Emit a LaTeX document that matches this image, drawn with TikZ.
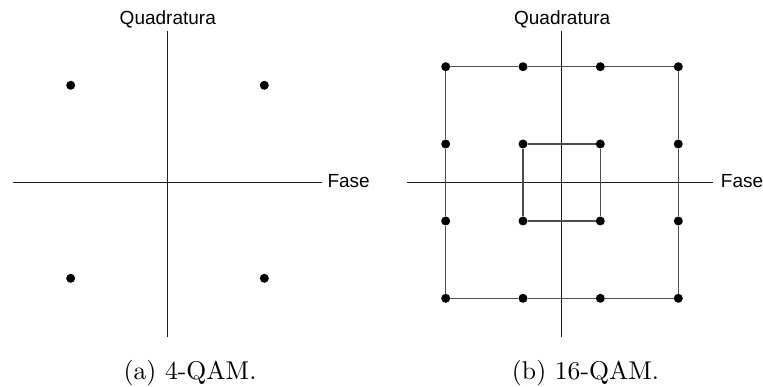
\documentclass[tikz,border=0pt]{standalone}
\usepackage{fontspec}
\newfontfamily\arialf{Liberation Sans}
\newfontfamily\capfont{lmroman10-regular}[Extension=.otf]
\begin{document}
\begin{tikzpicture}[x=1pt,y=-1pt,
  dot/.style={circle,fill=black,draw=none,inner sep=0pt,minimum size=9pt},
  axis/.style={line width=1pt,black!90},
  edge/.style={line width=1.4pt,black!70},
  lab/.style={font=\arialf\fontsize{19}{22}\selectfont,inner sep=0pt},
  capt/.style={font=\capfont\fontsize{25.7}{30}\selectfont,inner sep=0pt}]
\useasboundingbox (0,0) rectangle (763,387);
% ---- (a) 4-QAM ----
\coordinate (aT) at (167.3,31.5);
\coordinate (aB) at (167.3,337);
\coordinate (aL) at (12.7,182.3);
\coordinate (aR) at (321.7,182.3);
\draw[axis] (aT) -- (aB);
\draw[axis] (aL) -- (aR);
\node[lab,anchor=base west] (faseA) at (327.3,187.7) {Fase};
\node[lab,anchor=base] (quadA) at (167.8,25) {Quadratura};
\node[dot] (a1) at (70.7,85.3) {};
\node[dot] (a2) at (264.3,85.3) {};
\node[dot] (a3) at (70.7,278.3) {};
\node[dot] (a4) at (264.3,278.3) {};
\node[capt,anchor=base] (capA) at (190,379) {(a) 4-QAM.};
% ---- (b) 16-QAM ----
\coordinate (bT) at (561.7,31.5);
\coordinate (bB) at (561.7,337);
\coordinate (bL) at (406.7,182.3);
\coordinate (bR) at (713.3,182.3);
\draw[axis] (bT) -- (bB);
\draw[axis] (bL) -- (bR);
\node[lab,anchor=base west] (faseB) at (720.7,187.7) {Fase};
\node[lab,anchor=base] (quadB) at (562.2,25) {Quadratura};
\foreach \i/\y in {1/66.7,2/144,3/221,4/298.3}{
  \foreach \j/\x in {1/445.7,2/523,3/600.3,4/678.3}{
    \node[dot] (b\i\j) at (\x,\y) {};
  }
}
\draw[edge] (b11) -- (b12) -- (b13) -- (b14) -- (b24) -- (b34) -- (b44)
  -- (b43) -- (b42) -- (b41) -- (b31) -- (b21) -- (b11);
\draw[edge] (b22) -- (b23) -- (b33) -- (b32) -- (b22);
\node[capt,anchor=base] (capB) at (585.5,379) {(b) 16-QAM.};
\end{tikzpicture}
\end{document}
